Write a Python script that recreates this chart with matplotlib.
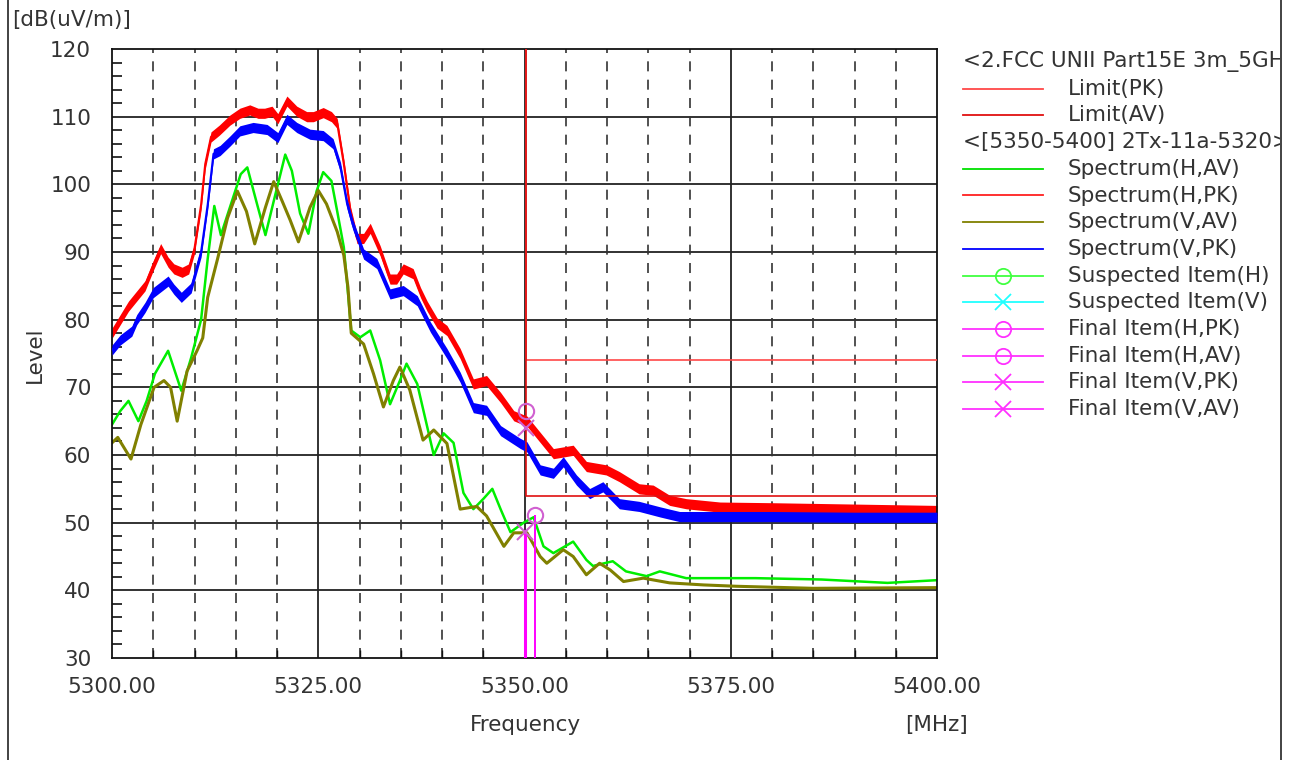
import matplotlib
matplotlib.use('Agg')
import matplotlib.pyplot as plt
from matplotlib.lines import Line2D
import numpy as np

plt.rcParams['font.family'] = ['DejaVu Sans']

# ---- data ----
h_pk_f = [5300, 5301, 5302, 5303, 5304, 5305, 5305.9, 5306.8, 5307.5, 5308.5, 5309.3, 5310,
          5310.8, 5311.3, 5312, 5313, 5314.3, 5315.5, 5316.7, 5317.7, 5318.5, 5319.4, 5320.1,
          5321.2, 5322.4, 5323.6, 5324.4, 5325.6, 5326.6, 5327.3, 5328.1, 5328.9, 5329.7,
          5330.5, 5331.3, 5332.5, 5333.7, 5334.5, 5335.3, 5336.5, 5337.4, 5338.2, 5339.4,
          5340.6, 5342.2, 5343.8, 5345.4, 5347.1, 5348.7, 5350.3, 5351.9, 5353.5, 5355.9,
          5357.5, 5359.9, 5361.5, 5363.9, 5365.6, 5367.6, 5369.6, 5373.7, 5380, 5390, 5400]
h_pk_v = [78, 80, 82, 83.5, 85, 88, 90.5, 88.5, 87.5, 87, 87.5, 90.5,
          97, 103, 107, 108, 109.5, 110.5, 111, 110.5, 110.5, 110.8, 109.7,
          112.3, 110.8, 110, 110, 110.6, 110, 109, 103, 96, 92,
          92, 93.5, 90.2, 86, 86, 87.5, 86.8, 84, 82, 79.5,
          78.4, 75, 70.5, 71, 68.5, 65.8, 65, 62.6, 60.2, 60.7,
          58.3, 57.8, 56.8, 55, 54.8, 53.3, 52.8, 52.3, 52.2, 52.0, 51.8]

v_pk_f = [5300, 5301, 5302.4, 5303, 5304, 5305, 5306.8, 5307.5, 5308.4, 5309.6, 5310.8,
          5311.6, 5312.3, 5313.1, 5314.3, 5315.5, 5317.1, 5318.8, 5320.1, 5321.2, 5322.4,
          5324, 5325.6, 5326.8, 5327.7, 5328.5, 5329.2, 5330.5, 5332.1, 5333.7, 5335.3,
          5337.0, 5338.6, 5340.6, 5342.2, 5343.8, 5345.4, 5347.1, 5349.5, 5350.3, 5351.9,
          5353.5, 5354.7, 5356.3, 5357.9, 5359.5, 5361.5, 5363.9, 5366.4, 5368.8, 5380,
          5390, 5400]
v_pk_v = [75.5, 77, 78.3, 80, 81.8, 84, 85.7, 84.5, 83.3, 84.7, 90,
          97, 104.5, 105, 106.4, 107.9, 108.4, 108.1, 106.9, 109.6, 108.4,
          107.4, 107.2, 106, 102.5, 97.1, 94, 89.7, 88.3, 83.8, 84.3,
          82.8, 78.9, 75, 71.5, 67, 66.6, 63.6, 61.7, 61.2, 57.8,
          57.3, 59, 56.3, 54.3, 55.3, 52.8, 52.4, 51.6, 50.9, 50.9,
          50.8, 50.8]

h_av_f = [5300, 5301, 5302, 5303.2, 5304.2, 5305.2, 5306.8, 5308.4, 5309.6, 5310.8, 5311.6,
          5312.4, 5313.2, 5314.4, 5315.6, 5316.4, 5317.6, 5318.6, 5319.6, 5321.0, 5321.8,
          5322.8, 5323.8, 5324.8, 5325.6, 5326.6, 5327.3, 5328.1, 5328.6, 5329.0, 5330.1,
          5331.3, 5332.5, 5333.7, 5334.9, 5335.7, 5337.0, 5338.2, 5339.0, 5340.2, 5341.4,
          5342.6, 5343.8, 5345.0, 5346.1, 5347.1, 5348.3, 5349.9, 5351.1, 5352.3, 5353.5,
          5355.9, 5357.5, 5358.3, 5360.7, 5362.3, 5364.8, 5366.4, 5369.6, 5378, 5386,
          5394, 5400]
h_av_v = [64.5, 66.5, 68, 65, 68, 72, 75.4, 69.5, 74.4, 80, 89,
          96.8, 92.5, 97, 101.5, 102.5, 97, 92.5, 97.5, 104.4, 102,
          95.7, 92.7, 99, 101.8, 100.5, 96, 90.7, 84, 78.4, 77.4,
          78.4, 74, 67.5, 71, 73.5, 70.5, 64.2, 60, 63.2, 61.8,
          54.4, 52, 53.5, 55, 52, 48.6, 50, 50.8, 46.5, 45.5,
          47.2, 44.5, 43.6, 44.3, 42.8, 42.1, 42.8, 41.8, 41.8, 41.6,
          41.1, 41.5]

v_av_f = [5300, 5300.7, 5302.3, 5303.5, 5305.1, 5306.3, 5307.1, 5307.9, 5309.1, 5310.3,
          5311.0, 5311.6, 5312.8, 5314.0, 5315.2, 5316.3, 5317.3, 5318.6, 5319.6, 5320.6,
          5321.6, 5322.6, 5324.0, 5325.0, 5326.0, 5327.3, 5328.1, 5328.6, 5329.0, 5330.5,
          5331.7, 5332.9, 5334.1, 5334.9, 5336.1, 5337.7, 5339.0, 5340.6, 5342.2, 5344.2,
          5345.4, 5347.5, 5348.7, 5350.3, 5351.9, 5352.7, 5354.7, 5355.9, 5357.5, 5359.1,
          5360.4, 5362.0, 5364.4, 5367.6, 5371.7, 5375.7, 5385, 5400]
v_av_v = [61.8, 62.6, 59.4, 64.5, 70, 71, 70, 65, 72.4, 75.4,
          77.3, 83.3, 89, 95, 99, 96, 91.2, 96.6, 100.4, 97.6,
          94.7, 91.5, 96.6, 99.1, 97.1, 93, 89.5, 84.8, 78, 76.4,
          72, 67.1, 71, 73, 69.6, 62.2, 63.7, 61.7, 52, 52.4,
          51, 46.5, 48.5, 48.5, 45, 44, 46, 45, 42.3, 44,
          43, 41.3, 41.8, 41.1, 40.8, 40.6, 40.3, 40.4]

limit_f = [5350.2, 5350.2, 5400]
limit_pk = [120, 74, 74]
limit_av = [120, 54, 54]

# final items: (freq, level)
final_h_pk = (5350.2, 66.5)
final_h_av = (5351.3, 51.1)
final_v_pk = (5350.2, 64.0)
final_v_av = (5350.1, 48.6)

x_ticks = [5300, 5325, 5350, 5375, 5400]
y_ticks = [30, 40, 50, 60, 70, 80, 90, 100, 110, 120]

legend_rows = [
    ('title', '<2.FCC UNII Part15E 3m_5GHz>', None, None),
    ('line', 'Limit(PK)', '#ff4848', None),
    ('line', 'Limit(AV)', '#e01010', None),
    ('title', '<[5350-5400] 2Tx-11a-5320>', None, None),
    ('line', 'Spectrum(H,AV)', '#00e000', None),
    ('line', 'Spectrum(H,PK)', '#ff2020', None),
    ('line', 'Spectrum(V,AV)', '#808000', None),
    ('line', 'Spectrum(V,PK)', '#0000ff', None),
    ('line', 'Suspected Item(H)', '#40ff40', 'o'),
    ('line', 'Suspected Item(V)', '#20ffff', 'x'),
    ('line', 'Final Item(H,PK)', '#ff30ff', 'o'),
    ('line', 'Final Item(H,AV)', '#ff30ff', 'o'),
    ('line', 'Final Item(V,PK)', '#ff30ff', 'x'),
    ('line', 'Final Item(V,AV)', '#ff30ff', 'x'),
]

TXT = '#333333'
FS = 15.5

fig = plt.figure(figsize=(13, 7.6), dpi=100)
ax = fig.add_axes([112/1300, 1 - 658/760, (937 - 112)/1300, (658 - 49)/760])

# grid
for yv in y_ticks[1:-1]:
    ax.axhline(yv, color='#222222', lw=1.3, zorder=1)
for xv in np.arange(5305, 5400, 5):
    if xv % 25 == 0:
        ax.axvline(xv, color='#222222', lw=1.3, zorder=1)
    else:
        ax.axvline(xv, color='#333333', lw=1.2, ls=(0, (6, 5)), zorder=1)

# spectra
band = 0.75
ax.fill_between(h_pk_f, np.array(h_pk_v) - band, np.array(h_pk_v) + band, color='#ff0000', lw=0, zorder=2)
ax.plot(h_pk_f, h_pk_v, color='#ff0000', lw=1.5, zorder=2)
ax.plot(h_av_f, h_av_v, color='#00ee00', lw=1.8, zorder=2)
ax.plot(v_av_f, v_av_v, color='#808000', lw=2.2, zorder=2)
ax.fill_between(v_pk_f, np.array(v_pk_v) - band, np.array(v_pk_v) + band, color='#0000ff', lw=0, zorder=3)
ax.plot(v_pk_f, v_pk_v, color='#0000ff', lw=1.5, zorder=3)

# limits
ax.plot(limit_f, limit_pk, color='#ff4848', lw=1.2, zorder=4)
ax.plot(limit_f, limit_av, color='#e01010', lw=1.2, zorder=4)

# final items
ax.vlines(final_v_av[0], 30, final_v_av[1], color='#ff00ff', lw=2.2, zorder=5)
ax.vlines(final_h_av[0], 30, final_h_av[1], color='#ff00ff', lw=1.4, zorder=5)
ax.plot(*final_h_pk, marker='o', ms=11, mfc='none', mec='#d060d0', mew=1.5, zorder=6)
ax.plot(*final_h_av, marker='o', ms=11, mfc='none', mec='#d060d0', mew=1.5, zorder=6)
ax.plot(*final_v_pk, marker='x', ms=12, mec='#d060d0', mew=1.5, zorder=6)
ax.plot(*final_v_av, marker='x', ms=12, mec='#d060d0', mew=1.5, zorder=6)

ax.set_xlim(5300, 5400)
ax.set_ylim(30, 120)
ax.set_xticks(x_ticks)
ax.set_xticklabels(['%.2f' % t for t in x_ticks])
ax.set_yticks(y_ticks)
ax.set_yticks(np.arange(30, 121, 2), minor=True)
ax.set_xticks(np.arange(5300, 5401, 5), minor=True)
ax.tick_params(axis='both', which='both', direction='in', colors='#111111', labelcolor=TXT, labelsize=FS)
ax.tick_params(axis='y', which='major', length=0, pad=15)
ax.tick_params(axis='y', which='minor', length=7, width=1.2)
ax.tick_params(axis='x', which='major', length=0, pad=14)
ax.tick_params(axis='x', which='minor', length=6, width=1.0)
for s in ax.spines.values():
    s.set_linewidth(1.3)
    s.set_color('#111111')

fig.text(35/1300, 1 - 355/760, 'Level', rotation=90, ha='center', va='center', fontsize=FS, color=TXT)
fig.text(12/1300, 1 - 20/760, '[dB(uV/m)]', ha='left', va='center', fontsize=FS, color=TXT)
fig.text(525/1300, 1 - 725/760, 'Frequency', ha='center', va='center', fontsize=FS, color=TXT)
fig.text(937/1300, 1 - 725/760, '[MHz]', ha='center', va='center', fontsize=FS, color=TXT)

# frame lines of the report page
fig.add_artist(Line2D([8/1300, 8/1300], [0, 1], color='#222222', lw=1.2))
fig.add_artist(Line2D([1281/1300, 1281/1300], [0, 1], color='#222222', lw=1.2))

# legend, clipped at the page frame
lax = fig.add_axes([945/1300, 0, (1280 - 945)/1300, 1])
lax.set_xlim(945, 1280)
lax.set_ylim(760, 0)
lax.axis('off')
row_y = 62
for kind, label, color, marker in legend_rows:
    if kind == 'title':
        lax.text(963, row_y, label, ha='left', va='center', fontsize=FS, color=TXT, clip_on=True)
    else:
        lax.plot([963, 1043], [row_y, row_y], color=color, lw=1.3)
        if marker == 'o':
            lax.plot(1003, row_y, marker='o', ms=11, mfc='none', mec=color, mew=1.3)
        elif marker == 'x':
            lax.plot(1003, row_y, marker='x', ms=12, mec=color, mew=1.3)
        lax.text(1068, row_y, label, ha='left', va='center', fontsize=FS, color=TXT, clip_on=True)
    row_y += 26.7

fig.savefig('out.png', dpi=100, facecolor='white')
